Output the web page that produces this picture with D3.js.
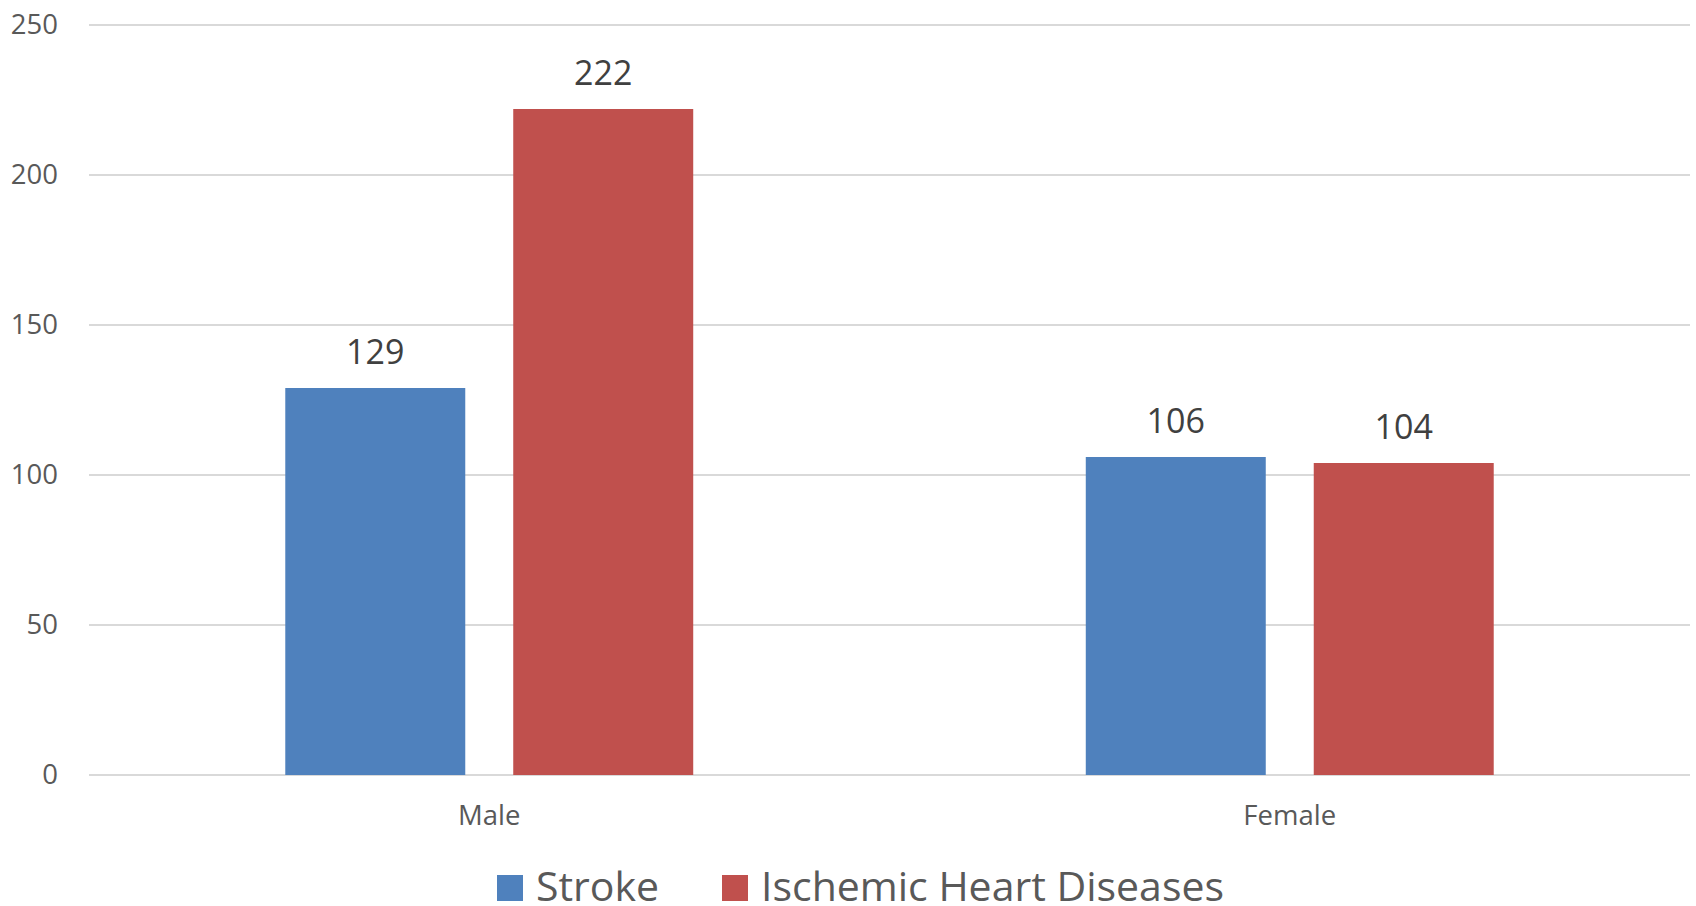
<!DOCTYPE html>
<html>
<head>
<meta charset="utf-8">
<script src="https://cdn.jsdelivr.net/npm/d3@7"></script>
<style>
  html, body { margin: 0; padding: 0; background: #fff; }
  svg { display: block; font-family: "Open Sans", sans-serif; }
  .grid line { stroke: #d9d9d9; stroke-width: 2; }
  .tick-label { fill: #595959; font-size: 27.5px; }
  .cat-label { fill: #595959; font-size: 27.5px; }
  .value-label { fill: #404040; font-size: 34px; }
  .legend-label { fill: #595959; font-size: 41px; }
</style>
</head>
<body>
<div id="chart"></div>
<script>
// --- Grouped bars: Stroke vs Ischemic Heart Diseases by sex ---

const categories = ['Male', 'Female'];
const seriesNames = ['Stroke', 'Ischemic Heart Diseases'];
const strokeValues = [129, 106];
const ihdValues = [222, 104];
const yTicks = [0, 50, 100, 150, 200, 250];
const colors = ['#4f81bd', '#c0504d'];

const W = 1696, H = 906;
const margin = { top: 25, right: 6, bottom: 131, left: 89 };
const width = W - margin.left - margin.right;
const height = H - margin.top - margin.bottom;

const svg = d3.select('#chart').append('svg')
  .attr('width', W)
  .attr('height', H);

const g = svg.append('g')
  .attr('transform', `translate(${margin.left},${margin.top})`);

const x0 = d3.scaleBand().domain(categories).range([0, width]).padding(0);
const x1 = d3.scaleBand().domain(seriesNames).range([0, x0.bandwidth()])
  .paddingInner(0.2105).paddingOuter(0.861);
const y = d3.scaleLinear().domain([0, 250]).range([height, 0]);

// gridlines
g.append('g').attr('class', 'grid')
  .selectAll('line').data(yTicks).join('line')
  .attr('x1', 0).attr('x2', width)
  .attr('y1', d => y(d)).attr('y2', d => y(d));

// y tick labels
g.append('g').selectAll('text').data(yTicks).join('text')
  .attr('class', 'tick-label')
  .attr('x', -31)
  .attr('y', d => y(d))
  .attr('dy', '0.34em')
  .attr('text-anchor', 'end')
  .text(d => d);

const rows = categories.map((c, i) => ({
  cat: c,
  vals: [strokeValues[i], ihdValues[i]]
}));

const groups = g.selectAll('.grp').data(rows).join('g')
  .attr('class', 'grp')
  .attr('transform', d => `translate(${x0(d.cat)},0)`);

groups.selectAll('rect').data(d => d.vals.map((v, j) => ({ s: seriesNames[j], v, j })))
  .join('rect')
  .attr('x', d => x1(d.s))
  .attr('width', x1.bandwidth())
  .attr('y', d => y(d.v))
  .attr('height', d => y(0) - y(d.v))
  .attr('fill', d => colors[d.j]);

groups.selectAll('.value-label').data(d => d.vals.map((v, j) => ({ s: seriesNames[j], v })))
  .join('text')
  .attr('class', 'value-label')
  .attr('x', d => x1(d.s) + x1.bandwidth() / 2)
  .attr('y', d => y(d.v) - 24)
  .attr('text-anchor', 'middle')
  .text(d => d.v);

// category labels
g.append('g').selectAll('text').data(categories).join('text')
  .attr('class', 'cat-label')
  .attr('x', d => x0(d) + x0.bandwidth() / 2)
  .attr('y', height + 50)
  .attr('text-anchor', 'middle')
  .text(d => d);

// legend (sits at the bottom edge, as in the source)
const legend = svg.append('g').attr('transform', 'translate(497,875)');
const legendX = [0, 225];
seriesNames.forEach((name, i) => {
  legend.append('rect')
    .attr('x', legendX[i]).attr('y', 0)
    .attr('width', 26).attr('height', 26)
    .attr('fill', colors[i]);
  legend.append('text')
    .attr('class', 'legend-label')
    .attr('x', legendX[i] + 39)
    .attr('y', 26)
    .text(name);
});
</script>
</body>
</html>
